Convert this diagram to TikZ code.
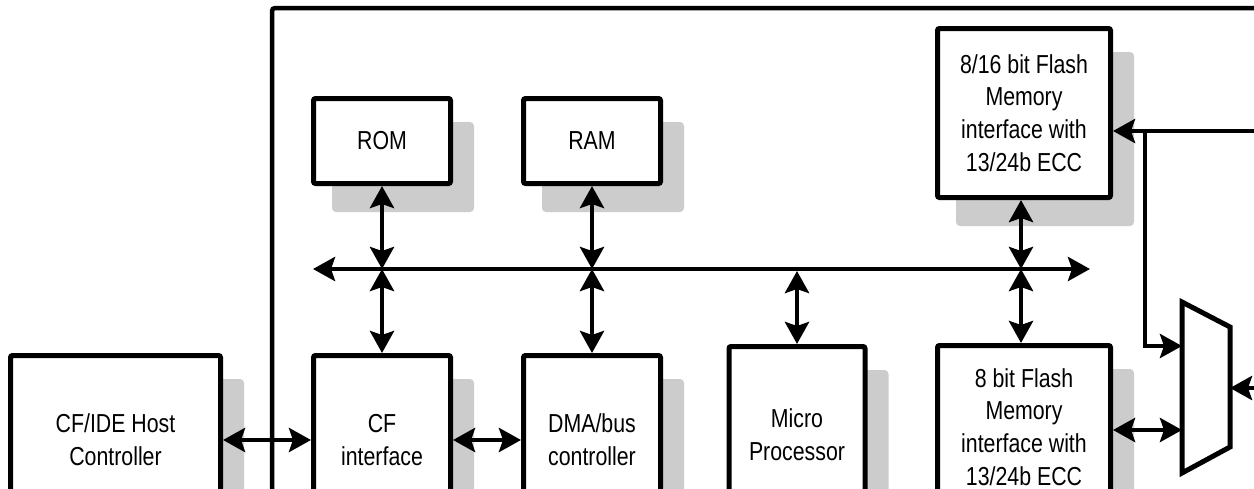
\documentclass[tikz,border=0pt]{standalone}
\usepackage{fontspec}
\setmainfont{Liberation Sans}[FakeStretch=0.82]
\usetikzlibrary{arrows.meta,shadows}
\definecolor{shade}{RGB}{204,204,204}
\begin{document}
\begin{tikzpicture}[x=1pt,y=-1pt,
  >={Stealth[length=22pt,width=24pt,inset=4pt]},
  blk/.style={draw, line width=5pt, rounded corners=2pt, fill=white, align=center, inner sep=0pt,
     font=\fontsize{26}{32.8}\selectfont,
     drop shadow={shadow xshift=21pt, shadow yshift=-26pt, fill=shade, draw=shade, line width=5pt, opacity=1}},
  conn/.style={line width=4.5pt},
  frame/.style={line width=4.5pt, rounded corners=3pt},
  muxbox/.style={line width=5pt, fill=white},
]
\useasboundingbox (0,0) rectangle (1254,488);
\clip (0,0) rectangle (1254,488);
\fill[white] (0,0) rectangle (1254,488);
% outer frame
\coordinate (fb) at (272,520);
\coordinate (ft) at (272,8);
\coordinate (fr) at (1270,8);
\draw[frame] (fb) -- (ft) -- (fr);
% blocks
\node[blk, minimum width=137pt, minimum height=85pt] (rom) at (382,141) {ROM};
\node[blk, minimum width=137pt, minimum height=85pt] (ram) at (592,141) {RAM};
\node[blk, minimum width=173pt, minimum height=169pt] (f16) at (1024,113) {8/16 bit Flash\\Memory\\interface with\\13/24b ECC};
\node[blk, minimum width=210pt, minimum height=169pt] (host) at (115.5,440) {CF/IDE Host\\Controller};
\node[blk, minimum width=137pt, minimum height=169pt] (cf) at (382,440) {CF\\interface};
\node[blk, minimum width=137pt, minimum height=169pt] (dma) at (592,440) {DMA/bus\\controller};
\node[blk, minimum width=136pt, minimum height=177pt] (mp) at (797,435) {Micro\\Processor};
\node[blk, minimum width=173pt, minimum height=163pt] (f8) at (1024,427) {8 bit Flash\\Memory\\interface with\\13/24b ECC};
% bus
\coordinate (bl) at (313,269);
\coordinate (br) at (1090,269);
\coordinate (b1) at (382,269);
\coordinate (b2) at (592,269);
\coordinate (b3) at (797,269);
\coordinate (b4) at (1021,269);
\draw[conn,<->] (bl) -- (br);
\draw[conn,<->] (rom.south) -- (b1);
\draw[conn,<->] (b1) -- (cf.north);
\draw[conn,<->] (ram.south) -- (b2);
\draw[conn,<->] (b2) -- (dma.north);
\draw[conn,<->,shorten <=2pt] (b3) -- (mp.north);
\draw[conn,<->] (f16.south -| b4) -- (b4);
\draw[conn,<->] (b4) -- (f8.north -| b4);
% horizontal links
\draw[conn,<->] (host.east) -- (cf.west);
\draw[conn,<->] (cf.east) -- (dma.west);
% mux
\coordinate (m1) at (1182,302);
\coordinate (m2) at (1230,327);
\coordinate (m3) at (1230,447);
\coordinate (m4) at (1182,473);
\draw[muxbox] (m1) -- (m2) -- (m3) -- (m4) -- cycle;
\coordinate (r1) at (1262,131);
\coordinate (j1) at (1145,131);
\coordinate (mi1) at (1182,346);
\coordinate (mi2) at (1182,430);
\coordinate (r2) at (1262,388);
\draw[conn,->] (r1) -- (r1 -| f16.east);
\draw[conn,->] (j1) |- (mi1);
\draw[conn,<->] (mi2 -| f8.east) -- (mi2);
\draw[conn,->] (r2) -- (r2 -| m2);
\end{tikzpicture}
\end{document}
